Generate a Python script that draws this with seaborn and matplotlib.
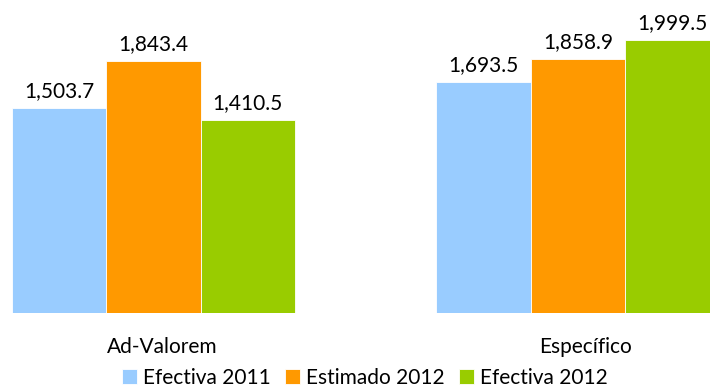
import pandas as pd
import seaborn as sns
import matplotlib.pyplot as plt

categories = ["Ad-Valorem", "Específico"]
series = ["Efectiva 2011", "Estimado 2012", "Efectiva 2012"]
efectiva_2011 = [1503.7, 1693.5]
estimado_2012 = [1843.4, 1858.9]
efectiva_2012 = [1410.5, 1999.5]
colors = ["#99CCFF", "#FF9900", "#99CC00"]

rows = []
for name, vals in zip(series, [efectiva_2011, estimado_2012, efectiva_2012]):
    for cat, v in zip(categories, vals):
        rows.append({"tipo": cat, "serie": name, "valor": v})
df = pd.DataFrame(rows)

sns.set_style("white")
plt.rcParams["font.family"] = ["Lato", "DejaVu Sans"]

fig = plt.figure(figsize=(7.1, 3.89), dpi=100)
ax = fig.add_axes([0, 0.1954, 1, 0.8046])

sns.barplot(data=df, x="tipo", y="valor", hue="serie", hue_order=series,
            palette=colors, width=0.667, saturation=1, ax=ax, legend=True,
            edgecolor="white", linewidth=0.6)

for cont in ax.containers:
    ax.bar_label(cont, labels=[f"{v:,.1f}" for v in cont.datavalues],
                 padding=5, fontsize=15, color="black")

ax.set_xlim(-0.3616, 1.311)
ax.set_ylim(0, 2292.5)
ax.set_xticks([0.02, 1.017])
ax.set_xticklabels(categories, fontsize=15, color="black")
ax.tick_params(axis="x", length=0, pad=17)
ax.set_yticks([])
ax.set_xlabel("")
ax.set_ylabel("")
for s in ax.spines.values():
    s.set_visible(False)

handles, labels = ax.get_legend_handles_labels()
ax.get_legend().remove()
fig.legend(handles, labels, loc="center", bbox_to_anchor=(365 / 710, 1 - 378 / 389),
           ncol=3, frameon=False, fontsize=15, handlelength=0.7, handleheight=0.7,
           handletextpad=0.3, columnspacing=0.7, borderaxespad=0, labelcolor="black")

fig.savefig("out.png", dpi=100)
